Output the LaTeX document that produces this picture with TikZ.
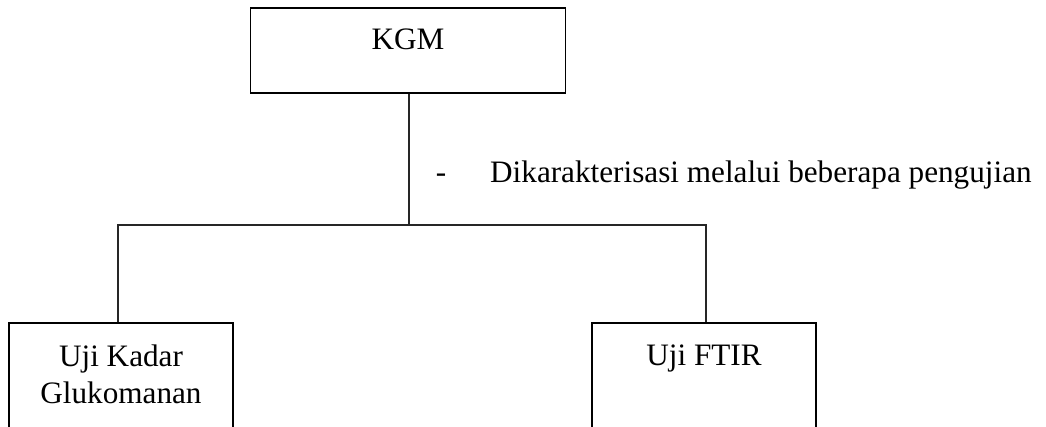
\documentclass[tikz,border=0pt]{standalone}
\usepackage{fontspec}
\setmainfont{Liberation Serif}
\begin{document}
\begin{tikzpicture}[x=1pt,y=-1pt,
  box/.style={draw=black,line width=1.4pt,rectangle,inner sep=0pt},
  txt/.style={anchor=base,inner sep=0pt,font=\fontsize{31.2}{36}\selectfont},
  link/.style={draw=black!85,line width=1.4pt}]
\useasboundingbox (0,0) rectangle (1046,427);
\clip (0,0) rectangle (1046,427);
\node[box,minimum width=315pt,minimum height=85pt] (kgm) at (408,50.5) {};
\node[box,minimum width=224pt,minimum height=160pt] (kadar) at (121,403) {};
\node[box,minimum width=224pt,minimum height=160pt] (ftir) at (704,403) {};
\node[txt] (tkgm) at (408,50) {KGM};
\node[txt] (tkadar1) at (121,366) {Uji Kadar};
\node[txt] (tkadar2) at (121,403) {Glukomanan};
\node[txt] (tftir) at (704,365) {Uji FTIR};
\node[txt] (dash) at (441,183) {-};
\node[txt,anchor=base west] (lbl) at (490,183) {Dikarakterisasi melalui beberapa pengujian};
\coordinate (j) at (409,225);
\coordinate (kl) at ([xshift=-3pt]kadar.north);
\coordinate (fr) at ([xshift=2pt]ftir.north);
\draw[link] (kgm.south -| j) -- (j);
\draw[link] (kl) -- (kl |- j) -- (fr |- j) -- (fr);
\end{tikzpicture}
\end{document}
